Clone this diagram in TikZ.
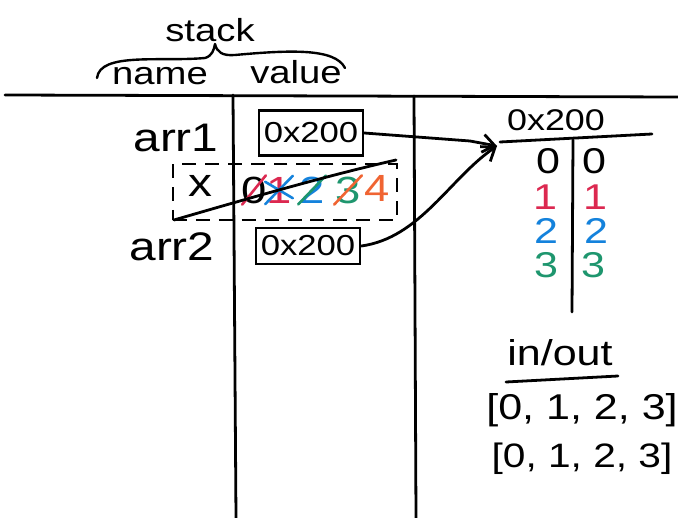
\documentclass[tikz,border=0pt]{standalone}
\usepackage{fontspec}
\setmainfont[FakeStretch=1.2]{Liberation Sans}
\usetikzlibrary{decorations.pathreplacing,arrows.meta}
\definecolor{pred}{RGB}{220,40,80}
\definecolor{pblue}{RGB}{20,130,220}
\definecolor{pgreen}{RGB}{30,150,110}
\definecolor{porange}{RGB}{240,100,50}
\tikzset{
  pen/.style={line width=2.8pt, line cap=round, line join=round},
  txt/.style={font=\fontsize{40}{42}\selectfont, inner sep=1pt},
  xdig/.style={font=\fontsize{38}{40}\selectfont, inner sep=1pt},
  digit/.style={font=\fontsize{36}{38}\selectfont, inner sep=1pt, text height=0.72em, text depth=0pt},
  strike/.style={pen, line width=2.6pt},
  head/.style={font=\fontsize{32}{34}\selectfont, inner sep=1pt},
  smalltxt/.style={font=\fontsize{30}{32}\selectfont, inner sep=1pt},
  valbox/.style={draw, line width=2.6pt, font=\fontsize{29}{31}\selectfont, minimum width=104bp, inner sep=2pt},
}
\begin{document}
\begin{tikzpicture}[x=1bp,y=-1bp]
\useasboundingbox (0,0) rectangle (678,518);
\fill[white] (0,0) rectangle (678,518);
% table lines
\draw[pen] (5,95) -- (678,97);
\draw[pen] (233,95) -- (236,518);
\draw[pen] (414,96) -- (416,518);
% header
\node[head] (stack) at (210,30) {stack};
\draw[pen, line width=2.4pt] (97,78) .. controls (100,52) and (160,62) .. (205,58) .. controls (212,56) and (214,50) .. (215,44)
  .. controls (217,52) and (222,56) .. (235,55) .. controls (290,50) and (335,48) .. (345,68);
\node[head] (name) at (160,76) {name};
\node[head] (value) at (296,72) {value};
% stack rows
\node[txt] (arr1) at (176,138) {arr1};
\node[valbox, minimum height=45bp] (b1) at (311,133) {0x200};
\node[txt] (xname) at (200,186) {x};
\node[txt] (arr2) at (172,247) {arr2};
\node[valbox, minimum height=36bp] (b2) at (308,246) {0x200};
% dashed box for x
\node[draw, line width=2.4pt, dash pattern=on 14pt off 9pt, minimum width=224bp, minimum height=56bp] (xbox) at (285,192) {};
% values of x
\node[xdig] (v0) at (254,190) {0};
\node[xdig, text=pred] (v1) at (279,190) {1};
\node[xdig, text=pblue] (v2) at (312,190) {2};
\node[xdig, text=pgreen] (v3) at (348,190) {3};
\node[xdig, text=porange] (v4) at (377,188) {4};
\draw[strike, pred] ([xshift=2bp]v0.south west) -- ([xshift=-2bp]v0.north east);
\draw[strike, pblue] (v1.south west) -- (v1.north east);
\draw[strike, pblue] ([yshift=-6bp]v1.north west) -- ([yshift=6bp]v1.south east);
\draw[strike, pgreen] (v2.south west) -- (v2.north east);
\draw[strike, porange] (v3.south west) -- (v3.north east);
% strike line through the x row
\coordinate (sx1) at (174,220);
\coordinate (sx2) at (396,160);
\draw[pen] (sx1) .. controls (260,195) and (330,175) .. (sx2);
% heap
\coordinate (tgt) at (497,146);
\draw[pen, -{Straight Barb[length=12pt,width=18pt]}] (b1.east) -- (470,141) -- (tgt);
\draw[pen, -{Straight Barb[length=12pt,width=18pt]}] (b2.east) .. controls (420,238) and (450,178) .. (tgt);
\node[smalltxt] (heapaddr) at (556,120) {0x200};
\draw[pen] (500,142) -- (652,134);
\draw[pen] (573,140) -- (572,312);
\node[digit] (l0) at (548,170) {0};
\node[digit, text=pred] (l1) at (545,206) {1};
\node[digit, text=pblue] (l2) at (546,240) {2};
\node[digit, text=pgreen] (l3) at (546,274) {3};
\node[digit] (r0) at (594,170) {0};
\node[digit, text=pred] (r1) at (595,206) {1};
\node[digit, text=pblue] (r2) at (596,240) {2};
\node[digit, text=pgreen] (r3) at (593,274) {3};
% in/out
\node[head, font=\fontsize{36}{38}\selectfont] (io) at (560,353) {in/out};
\draw[pen] (506,382) -- (618,376);
\node[head, font=\fontsize{36}{38}\selectfont] (out1) at (582,410) {[0, 1, 2, 3]};
\node[head, font=\fontsize{34}{36}\selectfont] (out2) at (582,459) {[0, 1, 2, 3]};
\end{tikzpicture}
\end{document}
